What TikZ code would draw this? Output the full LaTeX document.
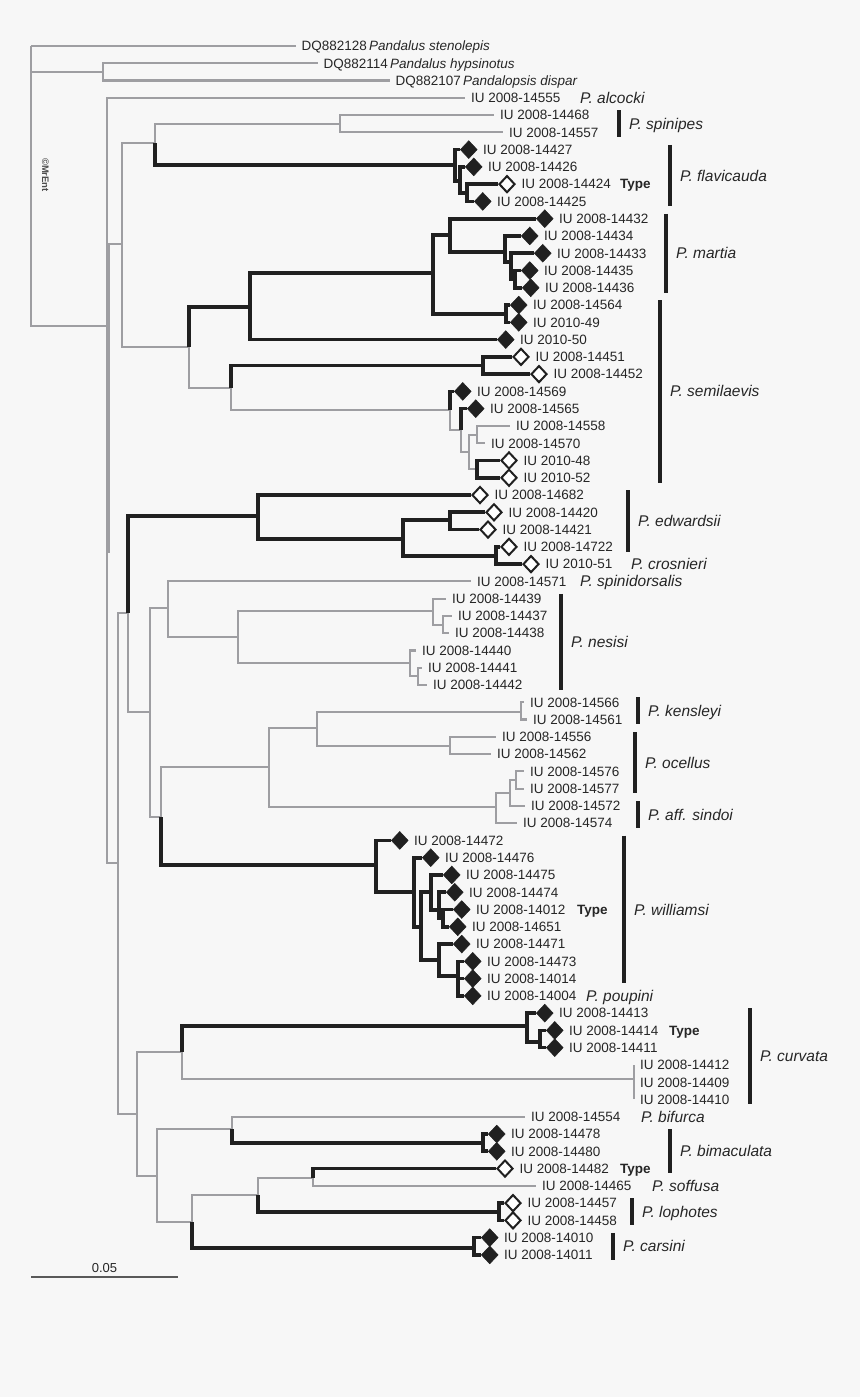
\documentclass[tikz,border=0pt]{standalone}
\usepackage{fontspec}
\setmainfont{Liberation Sans}
\usetikzlibrary{shapes.geometric}
\definecolor{bgc}{RGB}{247,247,247}
\definecolor{treegray}{RGB}{158,158,162}
\definecolor{treeblack}{RGB}{32,32,32}
\definecolor{txt}{RGB}{38,38,38}
\newcommand{\rw}[1]{28.73+17.27*#1}
\def\leafs{14555/2008/465/4/p, 14468/2008/494/5/p, 14557/2008/503/6/p,
	14427/2008/460/7/f, 14426/2008/465/8/f, 14424/2008/498/9/o, 14425/2008/474/10/f,
	14432/2008/536/11/f, 14434/2008/521/12/f, 14433/2008/534/13/f, 14435/2008/521/14/f, 14436/2008/522/15/f,
	14564/2008/510/16/f, 49/2010/510/17/f, 50/2010/497/18/f, 14451/2008/512/19/o, 14452/2008/530/20/o,
	14569/2008/454/21/f, 14565/2008/467/22/f, 14558/2008/510/23/p, 14570/2008/485/24/p, 48/2010/500/25/o, 52/2010/500/26/o,
	14682/2008/471/27/o, 14420/2008/485/28/o, 14421/2008/479/29/o, 14722/2008/500/30/o, 51/2010/522/31/o,
	14571/2008/471/32/p, 14439/2008/446/33/p, 14437/2008/452/34/p, 14438/2008/449/35/p,
	14440/2008/416/36/p, 14441/2008/422/37/p, 14442/2008/427/38/p,
	14566/2008/524/39/p, 14561/2008/527/40/p, 14556/2008/496/41/p, 14562/2008/491/42/p,
	14576/2008/524/43/p, 14577/2008/524/44/p, 14572/2008/525/45/p, 14574/2008/517/46/p,
	14472/2008/391/47/f, 14476/2008/422/48/f, 14475/2008/443/49/f, 14474/2008/446/50/f, 14012/2008/453/51/f,
	14651/2008/449/52/f, 14471/2008/453/53/f, 14473/2008/464/54/f, 14014/2008/464/55/f, 14004/2008/464/56/f,
	14413/2008/536/57/f, 14414/2008/546/58/f, 14411/2008/546/59/f,
	14412/2008/634/60/p, 14409/2008/634/61/p, 14410/2008/634/62/p,
	14554/2008/525/63/p, 14478/2008/488/64/f, 14480/2008/488/65/f, 14482/2008/496/66/o, 14465/2008/536/67/p,
	14457/2008/504/68/o, 14458/2008/504/69/o, 14010/2008/481/70/f, 14011/2008/481/71/f}
\begin{document}
\begin{tikzpicture}[x=1pt,y=-1pt,
	gbr/.style={draw=treegray,line width=2.2pt},
	bbr/.style={draw=treeblack,line width=3.6pt},
	gbar/.style={draw=treegray,line width=4.3pt},
	leafp/.style={inner sep=0pt,minimum size=0pt,anchor=west},
	leaff/.style={diamond,fill=treeblack,draw=treeblack,line width=0.5pt,minimum width=17pt,minimum height=18pt,inner sep=0pt,anchor=west},
	leafo/.style={diamond,fill=white,draw=treeblack,line width=2pt,minimum width=16pt,minimum height=17pt,inner sep=0pt,anchor=west},
	lbl/.style={anchor=west,inner sep=0pt,xshift=5.5pt,text height=9.6pt,text depth=0pt,text=txt,font=\fontsize{13.5}{15}\selectfont},
	spc/.style={anchor=west,inner sep=0pt,text height=11.1pt,text depth=0pt,text=txt,font=\fontsize{15.5}{17}\selectfont\itshape},
	typ/.style={anchor=west,inner sep=0pt,text height=9.6pt,text depth=0pt,text=txt,font=\fontsize{13.5}{15}\selectfont\bfseries},
	clbar/.style={draw=treeblack,line width=4.5pt},
	scbar/.style={draw=black!65,line width=1.4pt}]
	\path[use as bounding box,fill=bgc] (0,0) rectangle (860,1397);
	% internal nodes
	\foreach \nm/\xx/\yy in {root/31/46, outg/103/72, ingr/107/326, grpB/122/244, spfl/155/143, spin/340/123.7,
		flav/455/165, flav2/460/181, flav3/467/193, mase/189/347, mart/250/307, mart2/433/273, mart3/450/235,
		mart4/505/252, mart5/511/262, mart6/515/279, mart7/506/314, semi/231/388, semi1/483/365.5, semi2/450/410,
		semi3/461/430, semi4/469/452, semi5/477/435, semi6/477/469, grpC/118/863, grpD/128/613, edw/258/516,
		edw2/403/539, edw3/450/520, edw4/496/556, grpN/150/712, sne/168/608, nes/238/637, nes1/433/611,
		nes2/443/625, nes3/410/663, nes4/418/676, grpK/161/817, koc/269/767, koc2/317/728, ken/521/712,
		oce/450/746, sin/496/807, sin2/510/793, sin3/516/780, wil/376/865, wil2/414/892, wil3/421/927,
		wil4/431/892, wil5/439/910, wil6/443/918, wil7/439/960, wil8/458/976, grpG/137/1114, cur/182/1052,
		cur1/527/1026, cur2/540/1042, cur3/634/1079, grpH/157/1176, bif/232/1129, bim/483/1143, grpJ/192/1222,
		grpL/258/1195, sof/313/1178, lop/499/1212, car/474/1248}
		\coordinate (\nm) at (\xx,\yy);
	% leaves
	\coordinate (lsten) at (296,{\rw{1}});
	\coordinate (lhyps) at (318,{\rw{2}});
	\coordinate (ldisp) at (390,{\rw{3}});
	\foreach \num/\yr/\xx/\rr/\kind in \leafs
		\coordinate (l\num) at (\xx,{\rw{\rr}});
	% branches
	\draw[gbar] (108,244) -- (108,553);
	\foreach \pa/\ch in {root/lsten, root/outg, root/ingr, outg/lhyps, outg/ldisp, ingr/l14555, ingr/grpB, ingr/grpC,
		grpB/spfl, grpB/mase, spfl/spin, spin/l14468, spin/l14557, mase/semi, semi/semi2, semi2/semi3, semi3/semi4,
		semi4/semi5, semi4/semi6, semi5/l14558, semi5/l14570, grpC/grpD, grpC/grpG, grpD/grpN, grpN/sne, grpN/grpK,
		sne/l14571, sne/nes, nes/nes1, nes/nes3, nes1/l14439, nes1/nes2, nes2/l14437, nes2/l14438, nes3/l14440,
		nes3/nes4, nes4/l14441, nes4/l14442, grpK/koc, koc/koc2, koc/sin, koc2/ken, koc2/oce, ken/l14566, ken/l14561,
		oce/l14556, oce/l14562, sin/sin2, sin/l14574, sin2/sin3, sin2/l14572, sin3/l14576, sin3/l14577, grpG/cur,
		grpG/grpH, cur/cur3, cur3/l14412, cur3/l14409, cur3/l14410, grpH/bif, grpH/grpJ, bif/l14554, grpJ/grpL,
		grpL/sof, sof/l14465}
		\draw[gbr] (\pa) |- (\ch);
	\foreach \pa/\ch in {spfl/flav, flav/l14427, flav/flav2, flav2/l14426, flav2/flav3, flav3/l14424, flav3/l14425,
		mase/mart, mart/mart2, mart/l50, mart2/mart3, mart2/mart7, mart3/l14432, mart3/mart4, mart4/l14434, mart4/mart5,
		mart5/l14433, mart5/mart6, mart6/l14435, mart6/l14436, mart7/l14564, mart7/l49, semi/semi1, semi1/l14451,
		semi1/l14452, semi2/l14569, semi3/l14565, semi6/l48, semi6/l52, grpD/edw, edw/l14682, edw/edw2, edw2/edw3,
		edw2/edw4, edw3/l14420, edw3/l14421, edw4/l14722, edw4/l51, grpK/wil, wil/l14472, wil/wil2, wil2/l14476,
		wil2/wil3, wil3/wil4, wil3/wil7, wil4/l14475, wil4/wil5, wil5/l14474, wil5/wil6, wil6/l14012, wil6/l14651,
		wil7/l14471, wil7/wil8, wil8/l14473, wil8/l14014, wil8/l14004, cur/cur1, cur1/l14413, cur1/cur2, cur2/l14414,
		cur2/l14411, bif/bim, bim/l14478, bim/l14480, grpJ/car, car/l14010, car/l14011, grpL/lop, lop/l14457,
		lop/l14458, sof/l14482}
		\draw[bbr] (\pa) |- (\ch);
	% tips and labels
	\node[lbl] (tsten) at (lsten) {DQ882128\hspace{2pt}\textit{Pandalus stenolepis}};
	\node[lbl] (thyps) at (lhyps) {DQ882114\hspace{2pt}\textit{Pandalus hypsinotus}};
	\node[lbl] (tdisp) at (ldisp) {DQ882107\hspace{2pt}\textit{Pandalopsis dispar}};
	\foreach \num/\yr/\xx/\rr/\kind in \leafs {
		\node[leaf\kind] (d\num) at (l\num) {};
		\node[lbl] (t\num) at (d\num.east) {IU \yr-\num};
	}
	\foreach \nm/\sx/\rr in {14424/620/9, 14012/577/51, 14414/669/58, 14482/620/66}
		\node[typ] (ty\nm) at (\sx,{\rw{\rr}}) {Type};
	\foreach \nm/\sx/\rr/\sp in {alc/580/4/alcocki, sdo/580/32/spinidorsalis, cro/631/31/crosnieri,
		pou/586/56/poupini, bfu/641/63/bifurca, sff/652/67/soffusa}
		\node[spc] (s\nm) at (\sx,{\rw{\rr}}) {P. \sp};
	\foreach \nm/\bx/\ra/\rb/\sp in {spin/619/5/6/spinipes, flav/670/7/10/flavicauda, mart/666/11/15/martia,
		semi/660/16/26/semilaevis, edw/628/27/30/edwardsii, nes/561/33/38/nesisi, ken/638/39/40/kensleyi,
		oce/635/41/44/ocellus, sin/638/45/46/aff. sindoi, wil/624/47/55/williamsi, cur/750/57/62/curvata,
		bim/670/64/66/bimaculata, lop/632/68/69/lophotes, car/613/70/71/carsini} {
		\draw[clbar] (\bx,{\rw{\ra}-4.8}) -- (\bx,{\rw{\rb}+4.8}) coordinate[pos=0.5] (b\nm);
		\node[spc,xshift=10pt] (s\nm) at (b\nm) {P. \sp};
	}
	% scale and mark
	\draw[scbar] (31,1277) -- (178,1277) node[midway,above=3.5pt,inner sep=0pt,text=txt,font=\fontsize{13}{15}\selectfont] (scl) {0.05};
	\node[rotate=-90,inner sep=0pt,text=black!70,font=\fontsize{9.5}{11}\selectfont\bfseries] (wmark) at (45.5,175) {©MrEnt};
\end{tikzpicture}
\end{document}
